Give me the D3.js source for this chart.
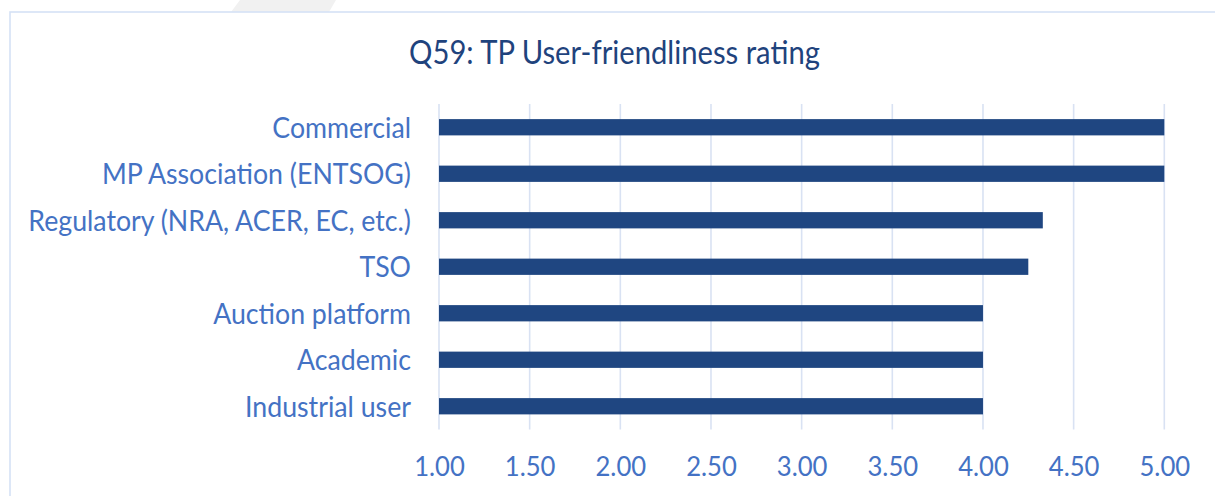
<!DOCTYPE html>
<html>
<head>
<meta charset="utf-8">
<script src="https://cdn.jsdelivr.net/npm/d3@7"></script>
<style>
  html, body { margin: 0; padding: 0; background: #ffffff; }
  svg { display: block; }
</style>
</head>
<body>
<svg id="chart" width="1215" height="496"></svg>
<script>
// ---- data ----
const categories = [
  "Commercial",
  "MP Association (ENTSOG)",
  "Regulatory (NRA, ACER, EC, etc.)",
  "TSO",
  "Auction platform",
  "Academic",
  "Industrial user"
];
const ratings = [5.00, 5.00, 4.33, 4.25, 4.00, 4.00, 4.00];
const tickValues = [1.00, 1.50, 2.00, 2.50, 3.00, 3.50, 4.00, 4.50, 5.00];
const titleText = "Q59: TP User-friendliness rating";

// ---- layout ----
const W = 1215, H = 496;
const plot = { left: 439, right: 1164.3, top: 104, bottom: 429.5 };
const FONT = "Lato, 'Open Sans', 'DejaVu Sans', sans-serif";
const colors = {
  bar: "#1f4681",
  title: "#1f437d",
  label: "#4472c4",
  grid: "#d9e2f3",
  frame: "#d5e1f5"
};

const svg = d3.select("#chart");

// faint decoration at top (background artefact)
svg.append("polygon")
  .attr("points", "240,0 336,0 329,12 231,12")
  .attr("fill", "#f1f1f1");

// frame
svg.append("rect")
  .attr("x", 10).attr("y", 12)
  .attr("width", W + 20).attr("height", H + 20)
  .attr("fill", "#ffffff")
  .attr("stroke", colors.frame)
  .attr("stroke-width", 1.6);

const x = d3.scaleLinear().domain([1, 5]).range([plot.left, plot.right]);
const y = d3.scaleBand().domain(categories)
  .range([plot.top, plot.bottom])
  .paddingInner(0.65).paddingOuter(0.325);

// helper: fit font size so a sample string reaches a target width
function fitSize(sample, targetWidth, base) {
  const t = svg.append("text").attr("font-family", FONT)
    .attr("font-size", base).text(sample);
  const w = t.node().getComputedTextLength();
  t.remove();
  return base * targetWidth / w;
}
const labelSize = fitSize("Regulatory (NRA, ACER, EC, etc.)", 383, 24);
const tickSize = fitSize("5.00", 50.7, 24);
const titleSize = fitSize(titleText, 411, 24);

// gridlines
svg.append("g").selectAll("line")
  .data(tickValues).join("line")
  .attr("x1", d => x(d)).attr("x2", d => x(d))
  .attr("y1", plot.top).attr("y2", plot.bottom)
  .attr("stroke", colors.grid).attr("stroke-width", 1.6);

// bars
svg.append("g").selectAll("rect")
  .data(categories).join("rect")
  .attr("x", x(1))
  .attr("y", d => y(d))
  .attr("width", (d, i) => x(ratings[i]) - x(1))
  .attr("height", y.bandwidth())
  .attr("fill", colors.bar);

// x axis labels (via d3 axis)
const xAxis = d3.axisBottom(x).tickValues(tickValues)
  .tickFormat(d3.format(".2f")).tickSize(0).tickPadding(0);
const gx = svg.append("g")
  .attr("transform", `translate(0,${plot.bottom})`)
  .call(xAxis);
gx.select(".domain").remove();
gx.selectAll("text")
  .attr("font-family", FONT)
  .attr("font-size", tickSize)
  .attr("fill", colors.label)
  .attr("dy", null)
  .attr("y", 0)
  .attr("transform", `translate(0,${476 - plot.bottom}) scale(1,1.07)`);

// y axis labels (via d3 axis)
const yAxis = d3.axisLeft(y).tickSize(0).tickPadding(0);
const gy = svg.append("g")
  .attr("transform", `translate(411,0)`)
  .call(yAxis);
gy.select(".domain").remove();
gy.selectAll("text")
  .attr("font-family", FONT)
  .attr("font-size", labelSize)
  .attr("fill", colors.label)
  .attr("text-anchor", "end")
  .attr("x", 0)
  .attr("dy", "0.36em")
  .attr("transform", "scale(1,1.07)");

// title
svg.append("text")
  .attr("transform", "translate(614.5,64) scale(1,1.15)")
  .attr("text-anchor", "middle")
  .attr("font-family", FONT)
  .attr("font-size", titleSize)
  .attr("fill", colors.title)
  .text(titleText);
</script>
</body>
</html>
